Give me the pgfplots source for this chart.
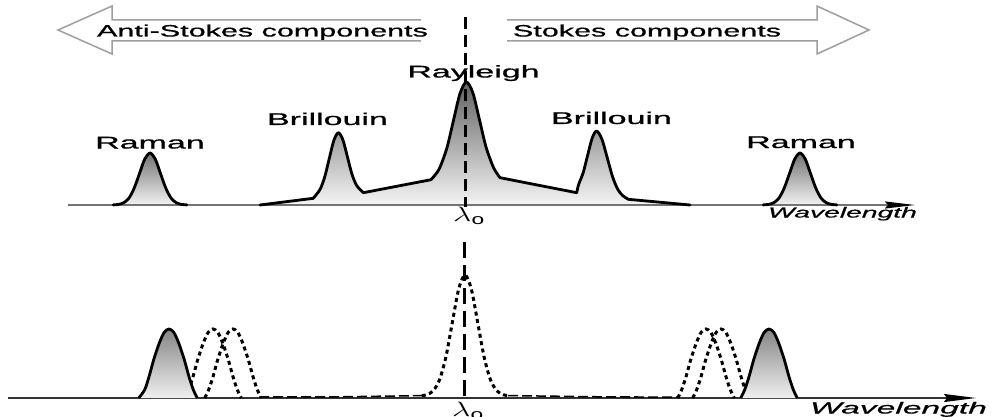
\documentclass[border=0pt]{standalone}
\usepackage{graphicx}
\usepackage{fontspec}
\setmainfont{Liberation Sans}
\newfontfamily\labfont{Liberation Sans}[FakeBold=0.6, ItalicFeatures={FakeBold=0.5}]
\usepackage{pgfplots}
\pgfplotsset{compat=1.18}
\usetikzlibrary{arrows.meta}
\newcommand{\lab}[3]{\labfont\fontsize{#1bp}{#1bp}\selectfont\scalebox{#2}[1]{#3}}
\begin{document}
\begin{tikzpicture}
\begin{axis}[name=ax, scale only axis, width=992bp, height=417bp,
  xmin=0, xmax=992, ymin=0, ymax=417, y dir=reverse, hide axis, clip=false]

% ---------- top panel ----------
% hollow arrows
\addplot[black!38, line width=1.5bp, line join=miter] coordinates {(421,20) (112,20) (112,6) (58,30) (112,54) (112,41) (421,41)};
\addplot[black!38, line width=1.5bp, line join=miter] coordinates {(507,20) (817,20) (817,6) (869,30) (817,54) (817,41) (507,41)};

% envelope fill (Brillouin - Rayleigh - Brillouin)
\addplot[draw=none, top color=black!62, bottom color=black!4] coordinates {
(260,205) (313.3,198.3) (315.8,195.2) (320.3,189.0) (324.8,176.6) (329.3,158.4) (333.8,140.6) (338.3,132.7) (342.8,139.6) (347.3,156.4) (351.8,173.6) (356.3,185.0) (360.8,190.2) (363.3,192.7)
(431,179.7) (437,172.5) (440.5,166.0) (447,147.6) (453.5,120.3) (460,93.5) (466.5,82) (473,93.3) (479.5,119.9) (486,147) (492.5,165.2) (496,172) (500,177.7)
(576.7,192.7) (578.7,184.3) (583.2,172.6) (587.7,155.1) (592.2,138.0) (596.7,131) (601.95,139.3) (607.2,157.6) (612.45,176.4) (617.7,189.3) (622.95,195.8) (628.3,199.3) (690,205)} -- cycle;

% Raman fills
\addplot[draw=none, top color=black!55, bottom color=black!5, smooth] coordinates {
(113.2,205) (118.5,204.4) (123.8,202.7) (129,198.0) (134.2,188.1) (139.5,173.5) (144.7,159.1) (150,153) (155.3,159.1) (160.5,173.5) (165.8,188.1) (171,198) (176.3,202.7) (181.5,204.4) (186.8,205)} -- cycle;
\addplot[draw=none, top color=black!55, bottom color=black!5, smooth] coordinates {
(763.2,205) (768.5,204.4) (773.8,202.7) (779,198) (784.2,188.1) (789.5,173.5) (794.7,159.1) (800,153) (805.3,159.1) (810.5,173.5) (815.8,188.1) (821,198) (826.3,202.7) (831.5,204.4) (836.8,205)} -- cycle;

% top baseline
\addplot[black!55, line width=2bp, -{Stealth[length=30bp, width=7bp, inset=3bp, color=black]}] coordinates {(68,205) (915,205)};

% strokes
\begin{scope}[line width=2.8bp, line cap=round, line join=round]
\addplot[black, smooth] coordinates {(113.2,204.9) (118.5,204.4) (123.8,202.7) (129,198.0) (134.2,188.1) (139.5,173.5) (144.7,159.1) (150,153) (155.3,159.1) (160.5,173.5) (165.8,188.1) (171,198) (176.3,202.7) (181.5,204.4) (186.8,204.9)};
\addplot[black, smooth] coordinates {(763.2,204.9) (768.5,204.4) (773.8,202.7) (779,198) (784.2,188.1) (789.5,173.5) (794.7,159.1) (800,153) (805.3,159.1) (810.5,173.5) (815.8,188.1) (821,198) (826.3,202.7) (831.5,204.4) (836.8,204.9)};
\addplot[black, line width=1.8bp] coordinates {(260,205) (313.3,198.3)};
\addplot[black, smooth] coordinates {(313.3,198.3) (315.8,195.2) (320.3,189.0) (324.8,176.6) (329.3,158.4) (333.8,140.6) (338.3,132.7) (342.8,139.6) (347.3,156.4) (351.8,173.6) (356.3,185.0) (360.8,190.2) (363.3,192.7)};
\addplot[black, line width=1.8bp] coordinates {(363.3,192.7) (431,179.7)};
\addplot[black, smooth] coordinates {(431,179.7) (437,172.5) (440.5,166.0) (447,147.6) (453.5,120.3) (460,93.5) (466.5,82) (473,93.3) (479.5,119.9) (486,147) (492.5,165.2) (496,172) (500,177.7)};
\addplot[black, line width=1.8bp] coordinates {(500,177.7) (576.7,192.7)};
\addplot[black, smooth] coordinates {(576.7,192.7) (578.7,184.3) (583.2,172.6) (587.7,155.1) (592.2,138.0) (596.7,131) (601.95,139.3) (607.2,157.6) (612.45,176.4) (617.7,189.3) (622.95,195.8) (628.3,199.3)};
\addplot[black, line width=1.8bp] coordinates {(628.3,199.3) (690,205)};
\end{scope}

% vertical dashed line (top)
\addplot[black, line width=3bp, dash pattern=on 12bp off 6bp] coordinates {(465.5,17) (465.5,207)};

% labels top
\node[anchor=base, inner sep=0] at (262.5,36.5) {\lab{16.5}{1.85}{Anti-Stokes components}};
\node[anchor=base, inner sep=0] at (647,36.5) {\lab{16.5}{1.85}{Stokes components}};
\node[anchor=base, inner sep=0] at (473.5,77.5) {\lab{17}{2.0}{Rayleigh}};
\node[anchor=base, inner sep=0] at (327.5,125) {\lab{17}{2.0}{Brillouin}};
\node[anchor=base, inner sep=0] at (611.5,124) {\lab{17}{2.0}{Brillouin}};
\node[anchor=base, inner sep=0] at (150,148.5) {\lab{17}{2.0}{Raman}};
\node[anchor=base, inner sep=0] at (801,148) {\lab{17}{2.0}{Raman}};
\node[anchor=base, inner sep=0] at (842.5,217.5) {\lab{14.5}{1.95}{\itshape Wavelength}};
\node[anchor=base west, inner sep=0] at (453,221) {\fontsize{21bp}{24bp}\selectfont\scalebox{1.55}[1]{$\lambda_{\mathrm{o}}$}};

% ---------- bottom panel ----------
\addplot[black!80, line width=1.8bp, -{Stealth[length=32bp, width=8bp, inset=3bp, color=black]}] coordinates {(8,398) (976,398)};

% dashed connections
\addplot[black, line width=1.5bp, dash pattern=on 10bp off 4bp] coordinates {(259,397) (340,396.8) (421.8,395.6)};
\addplot[black, line width=1.5bp, dash pattern=on 10bp off 4bp] coordinates {(508.2,395.6) (600,396.8) (678,397.2)};

% dotted peaks
\begin{scope}[line width=3bp, dash pattern=on 4bp off 3.5bp]
\addplot[black, smooth] coordinates {(184.7,398) (188.7,389.7) (193.1,376.4) (197.7,359.7) (203.3,343) (208.3,332.2) (213,329) (217.7,332.2) (222.7,343) (228.3,359.7) (232.9,376.4) (237.3,389.7) (241.3,398)};
\addplot[black, smooth] coordinates {(204.7,398) (208.7,389.7) (213.1,376.4) (217.7,359.7) (223.3,343) (228.3,332.2) (233,329) (237.7,332.2) (242.7,343) (248.3,359.7) (252.9,376.4) (257.3,389.7) (261.3,398)};
\addplot[black, smooth] coordinates {(421.8,395.6) (426.9,394.7) (433.25,390.7) (439.6,379.6) (445.95,356.7) (452.3,322.6) (458.65,289.2) (465,275) (471.35,289.2) (477.7,322.6) (484.05,356.7) (490.4,379.6) (496.75,390.7) (503.1,394.7) (508.2,395.6)};
\addplot[black, smooth] coordinates {(677.7,398) (681.7,389.7) (686.1,376.4) (690.7,359.7) (696.3,343) (701.3,332.2) (706,329) (710.7,332.2) (715.7,343) (721.3,359.7) (725.9,376.4) (730.3,389.7) (734.3,398)};
\addplot[black, smooth] coordinates {(692.7,398) (696.7,389.7) (701.1,376.4) (705.7,359.7) (711.3,343) (716.3,332.2) (721,329) (725.7,332.2) (730.7,343) (736.3,359.7) (740.9,376.4) (745.3,389.7) (749.3,398)};
\end{scope}

% solid peaks
\addplot[black, line width=2.8bp, smooth, top color=black!48, bottom color=black!6] coordinates {(138.7,398) (144.7,389.7) (149.1,376.4) (153.7,359.7) (159.3,343) (164.3,332.2) (169,329) (173.7,332.2) (178.7,343) (184.3,359.7) (188.9,376.4) (193.3,389.7) (197.3,398)};
\addplot[black, line width=2.8bp, smooth, top color=black!48, bottom color=black!6] coordinates {(740.7,398) (744.7,389.7) (749.1,376.4) (753.7,359.7) (759.3,343) (764.3,332.2) (769,329) (773.7,332.2) (778.7,343) (784.3,359.7) (788.9,376.4) (793.3,389.7) (797.3,398)};

% vertical dashed line (bottom)
\addplot[black, line width=3bp, dash pattern=on 16bp off 7bp] coordinates {(464,242) (464,399)};

\node[anchor=base, inner sep=0] at (898.5,413.5) {\lab{16}{2.1}{\itshape Wavelength}};
\node[anchor=base west, inner sep=0] at (452,416) {\fontsize{21bp}{24bp}\selectfont\scalebox{1.55}[1]{$\lambda_{\mathrm{o}}$}};
\end{axis}
\pgfresetboundingbox
\path (ax.south west) rectangle (ax.north east);
\end{tikzpicture}
\end{document}
